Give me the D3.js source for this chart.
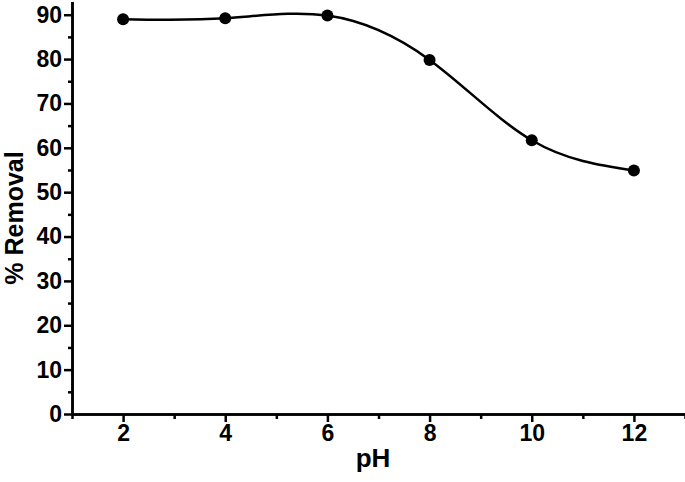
<!DOCTYPE html>
<html>
<head>
<meta charset="utf-8">
<script src="https://cdn.jsdelivr.net/npm/d3@7"></script>
<style>
  body { margin: 0; background: #fff; }
  .axis path, .axis line { stroke: #000; stroke-width: 2.5px; }
  .axis text { font-family: "Liberation Sans", Arial, sans-serif; font-weight: bold; font-size: 23px; fill: #000; }
</style>
</head>
<body>
<div id="chart"></div>
<script>
// pH values and % removal
var phValues = [2, 4, 6, 8, 10, 12];
var removal = [89.0, 89.2, 89.8, 79.8, 61.7, 54.9];

var xMajor = [2, 4, 6, 8, 10, 12];
var xMinor = [1, 3, 5, 7, 9, 11, 13];
var yMajor = [0, 10, 20, 30, 40, 50, 60, 70, 80, 90];
var yMinor = [5, 15, 25, 35, 45, 55, 65, 75, 85];

var W = 685, H = 482;

var svg = d3.select("#chart")
    .append("svg")
    .attr("width", W)
    .attr("height", H);

var x = d3.scaleLinear().domain([1, 13]).range([72, 685]);
var y = d3.scaleLinear().domain([0, 93]).range([414, 1.4]);

// minor ticks first, then the labelled axes
svg.append("g")
    .attr("class", "axis")
    .attr("transform", "translate(0,414)")
    .call(d3.axisBottom(x).tickValues(xMinor).tickSize(5).tickFormat("").tickSizeOuter(0));

svg.append("g")
    .attr("class", "axis")
    .attr("transform", "translate(72,0)")
    .call(d3.axisLeft(y).tickValues(yMinor).tickSize(4).tickFormat("").tickSizeOuter(0));

svg.append("g")
    .attr("class", "axis")
    .attr("transform", "translate(0,414)")
    .call(d3.axisBottom(x).tickValues(xMajor).tickSize(8).tickPadding(3).tickSizeOuter(0));

svg.append("g")
    .attr("class", "axis")
    .attr("transform", "translate(72,0)")
    .call(d3.axisLeft(y).tickValues(yMajor).tickSize(8).tickPadding(2).tickSizeOuter(0));

// axis titles
svg.append("text")
    .attr("x", 373)
    .attr("y", 467)
    .attr("text-anchor", "middle")
    .style("font-family", "Liberation Sans, Arial, sans-serif")
    .style("font-weight", "bold")
    .style("font-size", "26px")
    .text("pH");

svg.append("text")
    .attr("transform", "translate(23,218) rotate(-90)")
    .attr("text-anchor", "middle")
    .style("font-family", "Liberation Sans, Arial, sans-serif")
    .style("font-weight", "bold")
    .style("font-size", "25px")
    .text("% Removal");

var data = phValues.map(function(p, i) { return { ph: p, value: removal[i] }; });

// smooth spline through the points
var line = d3.line()
    .curve(d3.curveNatural)
    .x(function(d) { return x(d.ph); })
    .y(function(d) { return y(d.value); });

svg.append("path")
    .datum(data)
    .attr("d", line)
    .attr("fill", "none")
    .attr("stroke", "#000")
    .attr("stroke-width", 2.5);

svg.selectAll("circle.pt")
    .data(data)
    .enter()
    .append("circle")
    .attr("class", "pt")
    .attr("cx", function(d) { return x(d.ph); })
    .attr("cy", function(d) { return y(d.value); })
    .attr("r", 6)
    .attr("fill", "#000");
</script>
</body>
</html>
